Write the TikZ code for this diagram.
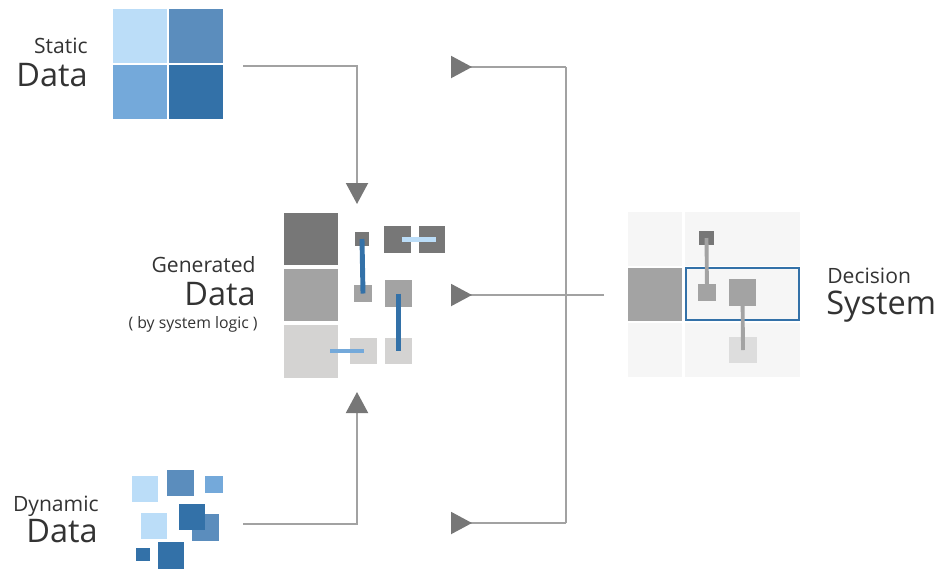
\documentclass[tikz,border=0pt]{standalone}
\usepackage{fontspec}
\setmainfont{Open Sans}
\usepackage{xcolor}
\usepackage{tikz}
\usetikzlibrary{arrows.meta, positioning}

\definecolor{bluePale}{HTML}{BBDDF8}
\definecolor{blueSoft}{HTML}{74A9DA}
\definecolor{blueMid}{HTML}{5B8DBD}
\definecolor{blueDeep}{HTML}{3371A8}
\definecolor{grayDark}{HTML}{777777}
\definecolor{grayMid}{HTML}{A3A3A3}
\definecolor{grayLight}{HTML}{D4D3D2}
\definecolor{grayPale}{HTML}{DDDDDD}
\definecolor{grayBg}{HTML}{F6F6F6}
\definecolor{lineGray}{HTML}{A2A2A2}
\definecolor{tipGray}{HTML}{777777}
\definecolor{txt}{HTML}{333333}

\begin{document}
\begin{tikzpicture}[
  x=0.02cm, y=-0.02cm,
  tile/.style={rectangle, inner sep=0pt, outer sep=0pt, draw=none},
  lblsm/.style={font=\fontsize{12}{14}\selectfont, text=txt, inner sep=0pt},
  lblbig/.style={font=\fontsize{18.5}{20}\selectfont, text=txt, inner sep=0pt},
  lbltiny/.style={font=\fontsize{9}{10}\selectfont, text=txt, inner sep=0pt},
  wire/.style={draw=lineGray, line width=1.15pt},
  flow/.style={wire, -{Triangle[length=0.42cm, width=0.44cm, color=tipGray]}},
  back/.style={wire, -{Triangle[reversed, length=0.42cm, width=0.44cm, color=tipGray]}},
  link/.style={line width=2.8pt},
  stem/.style={draw=grayMid, line width=2.2pt},
]
\useasboundingbox (0,0) rectangle (942,569);

% static data
\node[tile, fill=bluePale, minimum width=1.08cm, minimum height=1.08cm] (st1) at (140,36) {};
\node[tile, fill=blueMid,  minimum width=1.08cm, minimum height=1.08cm] (st2) at (196,36) {};
\node[tile, fill=blueSoft, minimum width=1.08cm, minimum height=1.08cm] (st3) at (140,91.5) {};
\node[tile, fill=blueDeep, minimum width=1.08cm, minimum height=1.08cm] (st4) at (196,91.5) {};
\node[lblsm, anchor=base east]  (stA) at (88,53) {Static};
\node[lblbig, anchor=base east] (stB) at (88,86) {Data};

% dynamic data
\node[tile, fill=bluePale, minimum width=0.52cm, minimum height=0.52cm] (dy1) at (145,489) {};
\node[tile, fill=blueMid,  minimum width=0.54cm, minimum height=0.52cm] (dy2) at (180.5,483) {};
\node[tile, fill=blueSoft, minimum width=0.36cm, minimum height=0.34cm] (dy3) at (214,484.5) {};
\node[tile, fill=bluePale, minimum width=0.52cm, minimum height=0.52cm] (dy4) at (154,526) {};
\node[tile, fill=blueMid,  minimum width=0.54cm, minimum height=0.54cm] (dy5) at (205.5,527.5) {};
\node[tile, fill=blueDeep, minimum width=0.52cm, minimum height=0.52cm] (dy6) at (192,517) {};
\node[tile, fill=blueDeep, minimum width=0.28cm, minimum height=0.26cm] (dy7) at (143,554.5) {};
\node[tile, fill=blueDeep, minimum width=0.52cm, minimum height=0.54cm] (dy8) at (171,555.5) {};
\node[lblsm, anchor=base east]  (dyA) at (99,511) {Dynamic};
\node[lblbig, anchor=base east] (dyB) at (98,542) {Data};

% generated data
\node[tile, fill=grayDark,  minimum width=1.08cm, minimum height=1.04cm] (gn1) at (311,239) {};
\node[tile, fill=grayMid,   minimum width=1.08cm, minimum height=1.04cm] (gn2) at (311,295) {};
\node[tile, fill=grayLight, minimum width=1.08cm, minimum height=1.06cm] (gn3) at (311,351.5) {};
\node[tile, fill=grayDark,  minimum width=0.28cm, minimum height=0.28cm] (ga) at (362,239) {};
\node[tile, fill=grayMid,   minimum width=0.36cm, minimum height=0.34cm] (gb) at (363,293.5) {};
\node[tile, fill=grayDark,  minimum width=0.54cm, minimum height=0.54cm] (gc) at (397.5,239.5) {};
\node[tile, fill=grayDark,  minimum width=0.52cm, minimum height=0.54cm] (gd) at (432,239.5) {};
\node[tile, fill=grayMid,   minimum width=0.54cm, minimum height=0.54cm] (ge) at (398.5,293.5) {};
\node[tile, fill=grayLight, minimum width=0.54cm, minimum height=0.52cm] (gf) at (363.5,351) {};
\node[tile, fill=grayLight, minimum width=0.54cm, minimum height=0.52cm] (gg) at (398.5,351) {};

\draw[link, blueDeep] (ga.center) -- (gb.center);
\draw[link, bluePale] ([xshift=2.5]gc.center) -- ([xshift=2]gd.center);
\draw[link, blueDeep] (ge.center) -- (gg.center);
\draw[link, blueSoft] (gf.center) -- ++(-34,0);

\node[lblsm, anchor=base east]   (gnA) at (256,272) {Generated};
\node[lblbig, anchor=base east]  (gnB) at (256,305) {Data};
\node[lbltiny, anchor=base east] (gnC) at (258,328) {( by system logic )};

% decision system
\foreach \x/\w/\c in {655/1.08cm/0, 742.5/2.30cm/1}{
  \foreach \y/\h in {239/1.08cm, 294.5/1.06cm, 350/1.08cm}{
    \node[tile, fill=grayBg, minimum width=\w, minimum height=\h] at (\x,\y) {};
  }
}
\node[tile, fill=grayMid, minimum width=1.08cm, minimum height=1.06cm] (ds0) at (655,294.5) {};
\node[tile, draw=blueDeep, line width=1.4pt, minimum width=2.26cm, minimum height=1.04cm] (dsel) at (742.5,294) {};
\node[tile, fill=grayDark,  minimum width=0.30cm, minimum height=0.28cm] (dsa) at (706.5,238) {};
\node[tile, fill=grayMid,   minimum width=0.36cm, minimum height=0.34cm] (dsb) at (707,292.5) {};
\node[tile, fill=grayMid,   minimum width=0.54cm, minimum height=0.54cm] (dsc) at (742.5,292.5) {};
\node[tile, fill=grayPale,  minimum width=0.56cm, minimum height=0.52cm] (dsd) at (743,350) {};
\draw[stem] (dsa.center) -- (dsb.center);
\draw[stem] (dsc.center) -- (dsd.center);

\node[lblsm, anchor=base west]  (dsA) at (827,283) {Decision};
\node[lblbig, anchor=base west] (dsB) at (826,314) {System};

% connectors
\coordinate (stOut) at (243,66);
\coordinate (gnTop) at (357,204);
\coordinate (dyOut) at (243,524);
\coordinate (gnBot) at (357,392);
\coordinate (busT) at (566,67);
\coordinate (busB) at (566,523);
\coordinate (dsIn) at (604,295);
\coordinate (fbT) at (451,67);
\coordinate (fbM) at (451,295);
\coordinate (fbB) at (451,523);

\draw[flow] (stOut) -| (gnTop);
\draw[flow] (dyOut) -| (gnBot);
\draw[wire] (busT) -- (busB);
\draw[back] (busT) -- (fbT);
\draw[back] (dsIn) -- (fbM);
\draw[back] (busB) -- (fbB);

\end{tikzpicture}
\end{document}
